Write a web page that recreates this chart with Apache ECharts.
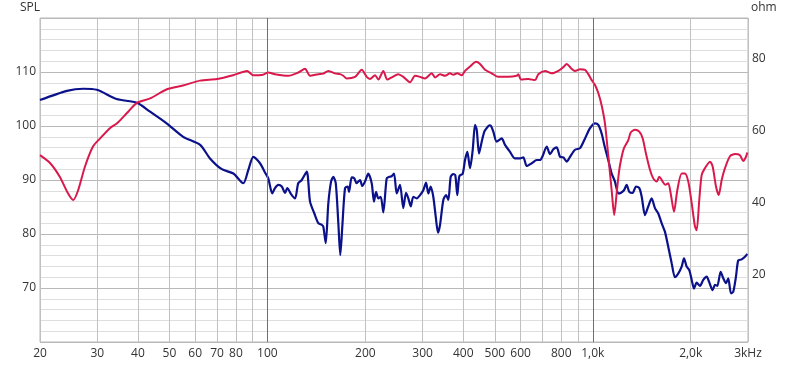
<!DOCTYPE html>
<html><head><meta charset="utf-8">
<script src="https://cdn.jsdelivr.net/npm/echarts@6/dist/echarts.min.js"></script>
<style>html,body{margin:0;padding:0;background:#fff}#c{width:800px;height:367px}</style>
</head><body><div id="c"></div>
<script>
const gridFreqs = [20,30,40,50,60,70,80,90,100,200,300,400,500,600,700,800,900,1000,2000,3000];
const labelFreqs = [20,30,40,50,60,70,80,100,200,300,400,500,600,800,1000,2000,3000];
const labelTexts = ['20','30','40','50','60','70','80','100','200','300','400','500','600','800','1,0k','2,0k','3kHz'];
const decadeFreqs = [100,1000];
const ohmLabels = [20,40,60,80];

const blueFreq = [20,24.2,27.2,29.9,34.4,39.7,43.6,49.0,55.1,62.1,
66.6,72.4,78.6,84.3,87.4,90.5,94.9,98.3,100.6,103.5,
105.5,108.0,110.7,113.3,115.1,118.2,121.6,124.4,127.5,132.1,
135.2,139.4,143.4,146.9,148.5,151.1,153.9,156.9,159.4,162.2,
165.2,167.5,169.9,173.2,176.5,178.2,181.6,185.0,188.0,192.6,
195.7,199.5,204.2,209.2,212.6,215.7,219.2,223.0,227.1,232.6,
237.0,241.0,245.0,249.7,255.6,261.6,266.7,271.1,275.7,280.8,
287.7,294.5,301.4,307.3,312.3,317.6,323.5,329.1,334.5,339.3,
347.3,354.0,359.8,365.9,372.7,378.0,383.4,388.9,398.4,404.9,
411.6,419.5,427.6,434.6,439.9,447.1,455.7,464.2,471.8,480.9,
486.7,494.7,506.7,525.0,537.4,556.8,576.8,597.6,611.7,626.6,
649.2,672.6,688.5,699.8,721.9,739.0,756.4,774.8,793.2,811.9,
831.6,851.3,882.0,913.8,946.7,980.8,1016,1040,1065,1085,
1116,1143,1170,1198,1218,1247,1271,1295,1326,1358,
1390,1414,1447,1481,1517,1553,1590,1628,1667,1706,
1748,1789,1832,1876,1907,1944,1980,2014,2047,2086,
2136,2186,2239,2276,2336,2375,2414,2472,2518,2567,
2609,2660,2703,2755,2800,2869,2936,2985];
const blueSpl = [104.8,106.5,106.9,106.7,105.0,104.3,102.65,100.5,98.0,96.5,
94.0,92.0,91.2,89.4,91.9,94.3,93.1,91.4,90.3,87.5,
88.5,89.1,88.8,87.6,88.5,87.4,86.6,89.4,90.0,91.55,
86.0,83.8,82.0,81.7,81.4,78.3,85.7,89.7,90.6,89.4,
82.0,76.1,81.4,88.5,88.8,87.8,90.5,90.3,89.4,90.0,
88.9,89.7,91.2,89.4,86.0,87.8,86.6,86.9,84.0,90.3,
90.6,90.7,91.2,87.5,89.1,84.8,87.6,86.6,85.1,86.9,
86.6,87.2,88.1,89.5,87.5,88.8,86.9,83.2,80.25,81.7,
86.3,87.2,86.3,90.6,91.1,90.9,87.2,90.7,91.2,93.7,
95.2,92.2,95.6,100.2,99.3,94.9,97.1,98.95,99.6,100.1,
100.0,98.95,97.1,97.7,96.5,95.2,94.0,94.0,94.2,92.6,
93.1,93.7,93.7,94.3,96.2,94.8,95.7,96.05,94.3,94.2,
93.4,94.3,95.6,95.9,97.7,99.6,100.5,100.2,98.6,96.5,
93.7,91.2,89.7,87.5,87.6,88.1,89.1,87.8,87.6,88.8,
88.5,86.9,83.5,85.1,86.6,84.8,83.8,82.0,80.4,77.65,
74.6,72.0,72.7,73.95,75.5,73.95,73.3,71.5,69.9,71.0,
70.4,71.5,72.1,71.2,69.6,70.6,70.4,73.0,71.8,70.9,
71.8,69.0,69.3,72.1,75.1,75.3,75.8,76.3];

const redFreq = [20,21.5,23.0,24.4,25.3,26.2,27.5,29.1,30.6,32.8,
34.5,37.0,39.7,43.6,49.1,55.0,62.1,70.0,78.4,86.6,
90.3,96.9,100.6,105.5,115.9,124.4,130.5,135.2,143.4,148.5,
153.9,161.4,167.2,171.1,175.3,185.9,194.9,201.9,206.7,214.2,
219.2,227.1,233.6,241.0,252.6,261.6,274.4,284.2,294.5,305.1,
319.9,327.5,339.3,351.5,364.1,372.7,383.4,395.6,404.9,419.5,
437.7,450.3,466.5,489.1,512.5,550.1,583.8,590.5,601.8,633.8,
664.6,680.2,713.3,747.9,783.7,811.9,831.6,857.4,882.0,913.8,
946.7,969.0,992.6,1016,1040,1065,1090,1116,1143,1164,
1184,1204,1221,1247,1286,1308,1348,1390,1424,1457,
1499,1534,1572,1601,1640,1670,1706,1736,1777,1819,
1876,1920,1966,2014,2061,2086,2125,2161,2212,2292,
2336,2392,2438,2490,2549,2641,2736,2834,2901,2957,
2985];
const redSpl = [94.6,93.1,90.6,87.5,86.3,88.1,92.5,96.2,97.7,99.6,
100.5,102.4,104.3,105.1,106.8,107.5,108.4,108.7,109.4,110.2,
109.4,109.5,109.9,109.6,109.3,109.9,110.6,109.3,109.6,109.7,
110.2,109.75,109.6,109.3,108.8,109.1,110.4,109.1,108.7,109.4,
108.6,110.2,108.6,109.0,109.6,109.1,108.1,109.3,109.1,108.8,
109.75,109.0,109.6,109.3,109.75,109.5,109.75,109.4,110.2,111.0,
111.9,111.5,110.4,109.75,109.1,109.1,109.3,109.6,108.6,108.7,
108.5,109.6,110.2,109.75,110.2,110.9,111.5,110.7,110.2,110.5,
110.4,109.6,108.5,107.6,106.1,103.8,100.5,94.5,88.1,83.5,
87.5,91.5,93.7,95.9,97.4,98.8,99.3,98.95,97.7,94.9,
91.9,90.3,89.7,90.6,89.7,89.1,89.4,87.5,84.1,88.1,
91.2,91.2,89.7,85.7,81.4,80.7,86.3,90.9,92.2,93.4,
92.5,88.8,87.2,90.0,92.2,94.4,94.8,94.6,93.5,94.3,
95.1];

const lg = Math.log10;
const FONT = 'Open Sans';
const chart = echarts.init(document.getElementById('c'), null, {renderer: 'canvas'});
chart.setOption({
  animation: false,
  backgroundColor: '#fff',
  grid: {left: 40, right: 52, top: 18, bottom: 25, show: true, borderColor: '#b9b9b9', borderWidth: 1},
  graphic: [
    {type: 'text', left: 20, top: 2, style: {text: 'SPL', font: '12px "Open Sans"', fill: '#333'}},
    {type: 'text', left: 751, top: 2, style: {text: 'ohm', font: '12px "Open Sans"', fill: '#333'}}
  ],
  xAxis: {
    type: 'value', min: lg(20), max: lg(3000),
    axisLine: {show: false},
    axisTick: {show: false, customValues: gridFreqs.map(lg)},
    axisLabel: {
      customValues: labelFreqs.map(lg),
      formatter: v => { const f = Math.round(Math.pow(10, v)); const i = labelFreqs.indexOf(f); return i >= 0 ? labelTexts[i] : ''; },
      color: '#333', fontSize: 12, fontFamily: FONT, margin: 6
    },
    splitLine: {show: true, lineStyle: {color: '#c0c0c0', width: 1}}
  },
  yAxis: [
    {
      type: 'value', min: 60, max: 120, interval: 10, position: 'left',
      axisLine: {show: false}, axisTick: {show: false},
      axisLabel: {showMinLabel: false, showMaxLabel: false, color: '#333', fontSize: 12, fontFamily: FONT, margin: 4},
      splitLine: {show: true, lineStyle: {color: '#b8b8b8', width: 1}},
      minorTick: {show: false, splitNumber: 5},
      minorSplitLine: {show: true, lineStyle: {color: '#dedede', width: 1}}
    },
    {
      type: 'value', min: 1.1, max: 91.4, position: 'right',
      axisLine: {show: false}, axisTick: {show: false},
      axisLabel: {customValues: ohmLabels, color: '#333', fontSize: 12, fontFamily: FONT, margin: 4},
      splitLine: {show: false}
    }
  ],
  series: [
    {
      type: 'line', data: [], z: 1, silent: true,
      markLine: {
        silent: true, symbol: ['none', 'none'], label: {show: false},
        lineStyle: {color: '#6f6f6f', width: 1, type: 'solid'},
        emphasis: {disabled: true},
        data: decadeFreqs.map(f => ({xAxis: lg(f)}))
      }
    },
    {
      type: 'line', name: 'blue', yAxisIndex: 0, showSymbol: false, symbol: 'none',
      smooth: 0.25, lineStyle: {color: '#0b118a', width: 2.2}, z: 3,
      data: blueFreq.map((f, i) => [lg(f), blueSpl[i]])
    },
    {
      type: 'line', name: 'red', yAxisIndex: 0, showSymbol: false, symbol: 'none',
      smooth: 0.25, lineStyle: {color: '#d9194b', width: 2}, z: 4,
      data: redFreq.map((f, i) => [lg(f), redSpl[i]])
    }
  ]
});
</script>
</body></html>
